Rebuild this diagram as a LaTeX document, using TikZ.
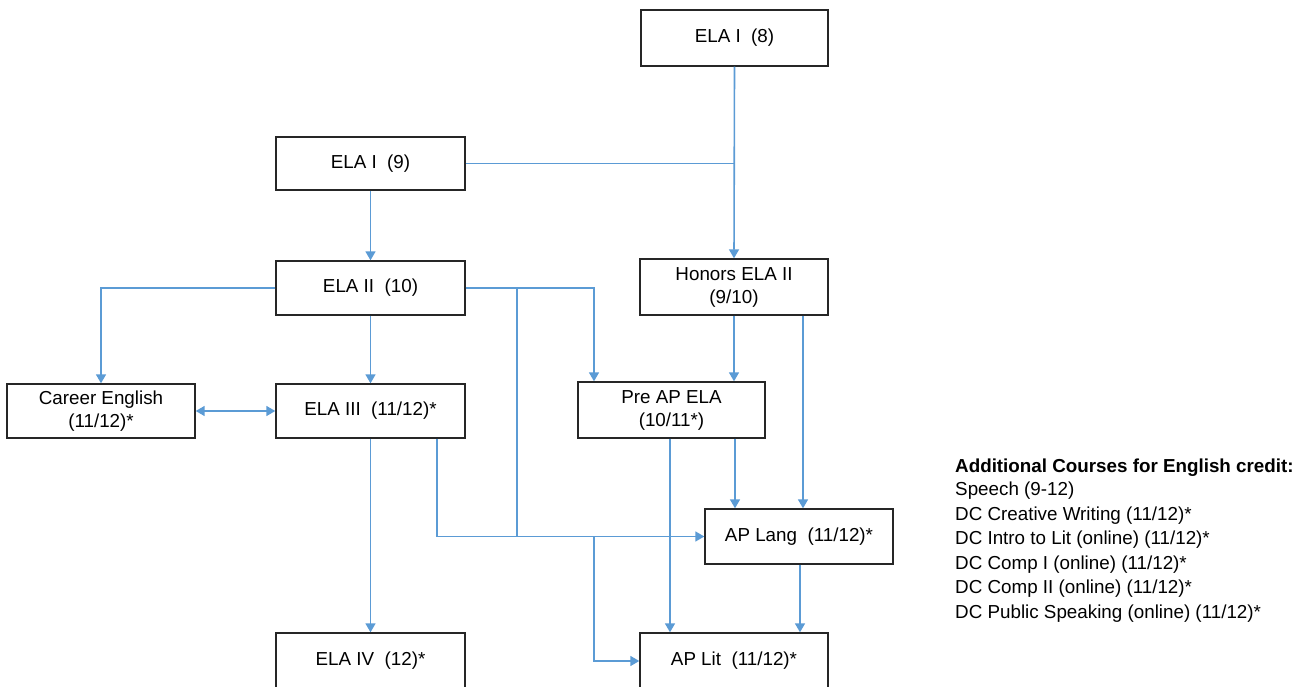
\documentclass[tikz,border=0pt]{standalone}
\usepackage{fontspec}
\setmainfont{Liberation Sans}
\usetikzlibrary{arrows.meta,calc}
\definecolor{conn}{HTML}{5B9BD5}
\definecolor{boxline}{HTML}{262626}
\begin{document}
\begin{tikzpicture}[x=1pt,y=-1pt,
  course/.style={draw=boxline,line width=1.4pt,fill=white,inner sep=0pt,align=center,
    font=\fontsize{18.8}{23}\selectfont},
  link/.style={draw=conn,line width=1.6pt},
  arr/.style={link,-{Triangle[length=9pt,width=10pt]}},
  darr/.style={link,{Triangle[length=9pt,width=10pt]}-{Triangle[length=9pt,width=10pt]}},
  side/.style={anchor=west,inner sep=0pt,font=\fontsize{18.8}{22}\selectfont}]
\useasboundingbox (0,0) rectangle (1312,687);
\fill[white] (0,0) rectangle (1312,687);
\begin{scope}
\clip (0,0) rectangle (1312,687);
% nodes
\node[course,minimum width=187pt,minimum height=56pt] (e8) at (734.5,38) {ELA I\ \ (8)};
\node[course,minimum width=189pt,minimum height=53pt] (e9) at (370.5,163.5) {ELA I\ \ (9)};
\node[course,minimum width=189pt,minimum height=54pt] (e10) at (370.5,288) {ELA II\ \ (10)};
\node[course,minimum width=188pt,minimum height=56pt] (hon) at (734,287) {Honors ELA II\\(9/10)};
\node[course,minimum width=188pt,minimum height=54pt] (car) at (101,411) {Career English\\(11/12)*};
\node[course,minimum width=189pt,minimum height=54pt] (e3) at (370.5,411) {ELA III\ \ (11/12)*};
\node[course,minimum width=187pt,minimum height=56pt] (pre) at (671.5,410) {Pre AP ELA\\(10/11*)};
\node[course,minimum width=188pt,minimum height=55pt] (lang) at (799,536.5) {AP Lang\ \ (11/12)*};
\node[course,minimum width=189pt,minimum height=56pt] (e4) at (370.5,661) {ELA IV\ \ (12)*};
\node[course,minimum width=188pt,minimum height=56pt] (lit) at (734,661) {AP Lit\ \ (11/12)*};
% helper coordinates
\coordinate (j1) at (517,288);
\coordinate (j2) at (517,536.5);
\coordinate (j3) at (594,536.5);
\coordinate (p1) at (594,288);
% connectors
\draw[arr] (e8.south) -- (hon.north);
\draw[link] (e9.east) -- (e9.east -| e8.south);
\draw[arr] (e9.south) -- (e10.north);
\draw[arr] (e10.west) -| (car.north);
\draw[arr] (e10.south) -- (e3.north);
\draw[arr] (e10.east) -- (p1) -- (p1 |- pre.north);
\draw[link] (j1) -- (j2);
\draw[darr] (car.east) -- (e3.west);
\draw[arr] (e3.south) -- (e4.north);
\draw[arr] ([xshift=66.5pt]e3.south) |- (lang.west);
\draw[arr] (hon.south) -- (hon.south |- pre.north);
\draw[arr] ([xshift=69pt]hon.south) -- ([xshift=69pt]hon.south |- lang.north);
\draw[arr] ([xshift=-1.5pt]pre.south) -- ([xshift=-1.5pt]pre.south |- lit.north);
\draw[arr] ([xshift=63.5pt]pre.south) -- ([xshift=63.5pt]pre.south |- lang.north);
\draw[arr] (j3) |- (lit.west);
\draw[arr] ([xshift=1pt]lang.south) -- ([xshift=1pt]lang.south |- lit.north);
\end{scope}
% sidebar
\node[side,font=\fontsize{18.8}{22}\selectfont\bfseries] (h) at (955,468) {Additional Courses for English credit:};
\node[side] (s1) at (955,490.5) {Speech (9-12)};
\node[side] (s2) at (955,515.5) {DC Creative Writing (11/12)*};
\node[side] (s3) at (955,540) {DC Intro to Lit (online) (11/12)*};
\node[side] (s4) at (955,564.5) {DC Comp I (online) (11/12)*};
\node[side] (s5) at (955,589) {DC Comp II (online) (11/12)*};
\node[side] (s6) at (955,614) {DC Public Speaking (online) (11/12)*};
\end{tikzpicture}
\end{document}
